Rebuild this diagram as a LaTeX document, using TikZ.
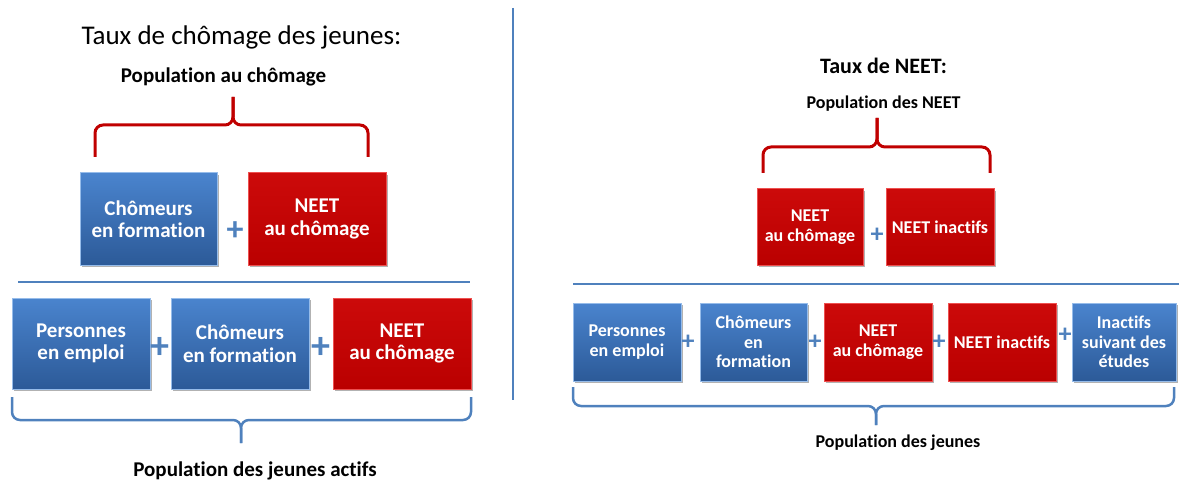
\documentclass[tikz,border=0pt]{standalone}
\usepackage{fontspec}
\setmainfont{Carlito}[Ligatures=NoCommon]
\usetikzlibrary{shadows}
\definecolor{lineblue}{RGB}{79,129,189}
\definecolor{bxbluetop}{RGB}{74,132,206}
\definecolor{bxbluebot}{RGB}{44,90,152}
\definecolor{bxblueedge}{RGB}{150,188,234}
\definecolor{bracered}{RGB}{192,0,0}
\definecolor{bxredtop}{RGB}{204,10,10}
\definecolor{bxredbot}{RGB}{186,0,0}
\definecolor{bxrededge}{RGB}{238,80,80}
\definecolor{plusblue}{RGB}{79,129,189}
\tikzset{
  boxbase/.style={rectangle, align=center, text=white, inner sep=1pt, line width=1pt,
    drop shadow={shadow xshift=2pt, shadow yshift=-2pt, opacity=0.3, fill=black}},
  bluebox/.style={boxbase, top color=bxbluetop, bottom color=bxbluebot, draw=bxblueedge},
  redbox/.style={boxbase, top color=bxredtop, bottom color=bxredbot, draw=bxrededge},
  bigtxt/.style={font=\fontsize{21}{22.5}\selectfont\bfseries},
  smalltxt/.style={font=\fontsize{18}{19.5}\selectfont\bfseries},
  plussign/.style={text=plusblue, inner sep=0pt},
  redbrace/.style={draw=bracered, line width=3pt, rounded corners=8pt},
  bluebrace/.style={draw=lineblue, line width=2.5pt, rounded corners=8pt},
  sepline/.style={draw=lineblue, line width=2.5pt},
  headtxt/.style={anchor=base, inner sep=0pt}
}
\begin{document}
\begin{tikzpicture}[x=1pt,y=-1pt]
\useasboundingbox (0,0) rectangle (1179,484);

% ---------- left part ----------
\node[headtxt, font=\fontsize{27}{30}\selectfont] (t1) at (241.5,45) {Taux de chômage des jeunes:};
\node[headtxt, font=\fontsize{21}{24}\selectfont\bfseries] (p1) at (223.5,83) {Population au chômage};

\coordinate (rb1l) at (95,157);
\coordinate (rb1r) at (368,157);
\coordinate (rb1m) at (233,125);
\coordinate (rb1t) at (233,97);
\path[redbrace] (rb1l) -- (95,125) -- (rb1m) -- (rb1t);
\path[redbrace] (rb1r) -- (368,125) -- (rb1m) -- (rb1t);

\node[bluebox, bigtxt, minimum width=137pt, minimum height=92pt] (lt1) at (148.5,219) {Chômeurs\\en formation};
\node[redbox, bigtxt, minimum width=138pt, minimum height=92pt] (lt2) at (317,219) {NEET\\au chômage};
\node[plussign, font=\fontsize{34}{34}\selectfont\bfseries] (lp0) at (235,231) {+};

\coordinate (ll1) at (18,282);
\coordinate (ll2) at (470,282);
\path[sepline] (ll1) -- (ll2);

\node[bluebox, bigtxt, minimum width=138pt, minimum height=91pt] (lb1) at (81,343.5) {Personnes\\en emploi};
\node[bluebox, bigtxt, minimum width=138pt, minimum height=91pt] (lb2) at (240,343.5) {Chômeurs\\en formation};
\node[redbox, bigtxt, minimum width=138pt, minimum height=91pt] (lb3) at (402,343.5) {NEET\\au chômage};
\node[plussign, font=\fontsize{38}{38}\selectfont\bfseries] (lp1) at (160,348) {+};
\node[plussign, font=\fontsize{38}{38}\selectfont\bfseries] (lp2) at (321,348) {+};

\coordinate (bb1l) at (12,397);
\coordinate (bb1r) at (471,397);
\coordinate (bb1m) at (241,420);
\coordinate (bb1t) at (241,443);
\path[bluebrace] (bb1l) -- (12,420) -- (bb1m) -- (bb1t);
\path[bluebrace] (bb1r) -- (471,420) -- (bb1m) -- (bb1t);

\node[headtxt, font=\fontsize{21}{24}\selectfont\bfseries] (p2) at (255,476) {Population des jeunes actifs};

% divider
\coordinate (dv1) at (513,8);
\coordinate (dv2) at (513,400);
\path[draw=lineblue, line width=1.3pt] (dv1) -- (dv2);

% ---------- right part ----------
\node[headtxt, font=\fontsize{22}{25}\selectfont\bfseries] (t2) at (883.5,74) {Taux de NEET:};
\node[headtxt, font=\fontsize{18}{21}\selectfont\bfseries] (p3) at (883.5,109) {Population des NEET};

\coordinate (rb2l) at (763,173);
\coordinate (rb2r) at (990,173);
\coordinate (rb2m) at (877,147);
\coordinate (rb2t) at (877,118);
\path[redbrace] (rb2l) -- (763,147) -- (rb2m) -- (rb2t);
\path[redbrace] (rb2r) -- (990,147) -- (rb2m) -- (rb2t);

\node[redbox, smalltxt, minimum width=106pt, minimum height=76pt] (rt1) at (810,227) {NEET\\au chômage};
\node[redbox, smalltxt, minimum width=108pt, minimum height=76pt] (rt2) at (940,227) {NEET inactifs};
\node[plussign, font=\fontsize{26}{26}\selectfont\bfseries] (rp0) at (877,235) {+};

\coordinate (rl1) at (573,284);
\coordinate (rl2) at (1179,284);
\path[sepline] (rl1) -- (rl2);

\node[bluebox, smalltxt, minimum width=108pt, minimum height=78pt] (rb1) at (627,342) {Personnes\\en emploi};
\node[bluebox, smalltxt, minimum width=107pt, minimum height=78pt] (rb2) at (753.5,342) {Chômeurs\\en\\formation};
\node[redbox, smalltxt, minimum width=108pt, minimum height=78pt] (rb3) at (878,342) {NEET\\au chômage};
\node[redbox, smalltxt, minimum width=108pt, minimum height=78pt] (rb4) at (1002,342) {NEET inactifs};
\node[bluebox, smalltxt, minimum width=104pt, minimum height=78pt] (rb5) at (1124,342) {Inactifs\\suivant des\\études};
\node[plussign, font=\fontsize{26}{26}\selectfont\bfseries] (rp1) at (688,342) {+};
\node[plussign, font=\fontsize{26}{26}\selectfont\bfseries] (rp2) at (815,342) {+};
\node[plussign, font=\fontsize{26}{26}\selectfont\bfseries] (rp3) at (939,342) {+};
\node[plussign, font=\fontsize{26}{26}\selectfont\bfseries] (rp4) at (1065,335) {+};

\coordinate (bb2l) at (573,387);
\coordinate (bb2r) at (1174,387);
\coordinate (bb2m) at (876,406);
\coordinate (bb2t) at (876,425);
\path[bluebrace] (bb2l) -- (573,406) -- (bb2m) -- (bb2t);
\path[bluebrace] (bb2r) -- (1174,406) -- (bb2m) -- (bb2t);

\node[headtxt, font=\fontsize{18}{21}\selectfont\bfseries] (p4) at (898,447) {Population des jeunes};
\end{tikzpicture}
\end{document}
